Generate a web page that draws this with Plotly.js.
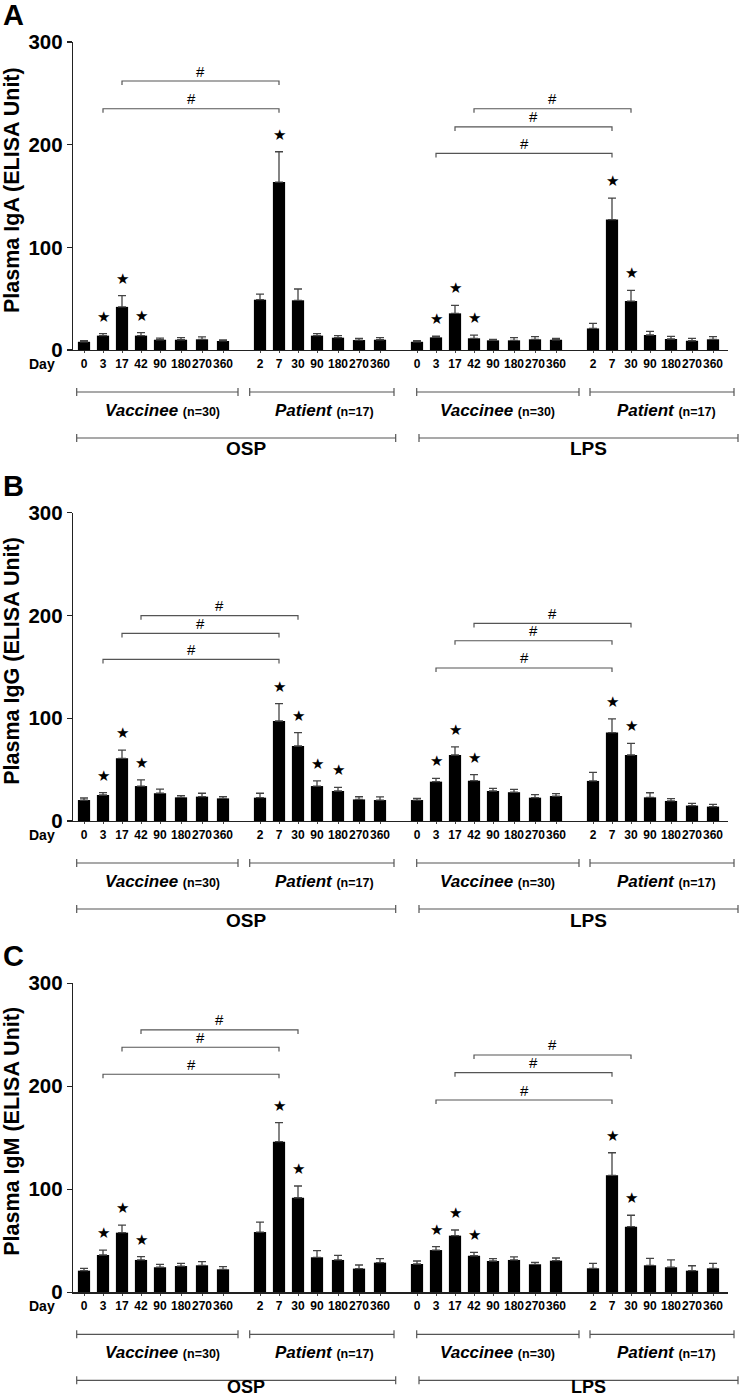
<!DOCTYPE html>
<html><head><meta charset="utf-8">
<script src="https://cdn.plot.ly/plotly-3.0.1.min.js"></script>
<style>html,body{margin:0;padding:0;background:#fff}</style>
</head><body><div id="chart" style="width:740px;height:1398px"></div>
<script>
// ---------- DATA ----------
const vaccineeDays = ['0','3','17','42','90','180','270','360'];
const patientDays  = ['2','7','30','90','180','270','360'];
const groupNames = ['Vaccinee', 'Patient', 'Vaccinee', 'Patient'];
const groupN = ['(n=30)', '(n=17)', '(n=30)', '(n=17)'];
const antigenNames = ['OSP', 'LPS'];
const panelLetters = ['A', 'B', 'C'];
const yTitles = ['Plasma IgA (ELISA Unit)', 'Plasma IgG (ELISA Unit)', 'Plasma IgM (ELISA Unit)'];
const yTicks = [0, 100, 200, 300];

// bar order: OSP vaccinee(8), OSP patient(7), LPS vaccinee(8), LPS patient(7)
const igaMean = [8, 14, 42, 14, 10, 10, 10.4, 8.8,
                 49, 163.6, 48.4, 14, 12, 9.7, 10,
                 8, 12.3, 35.7, 11.4, 9.4, 9.4, 10.4, 10,
                 21, 127, 47.7, 14.6, 10.7, 9, 10.4];
const igaErr  = [1, 2, 11, 3, 1.5, 2, 2.3, 1,
                 5.5, 29.5, 11, 2, 2, 1.7, 2,
                 1, 1.3, 7.8, 3, 1, 2.6, 2.6, 1.4,
                 5, 21, 10.4, 3.6, 2.6, 2.3, 2.6];
const igaStars = [1, 2, 3, 9, 16, 17, 18, 24, 25];
const igaBrackets = [[1, 9, 235], [2, 9, 262], [16, 24, 191.5], [17, 24, 217.4], [18, 25, 235]];

const iggMean = [20.4, 25.3, 61, 34, 27, 23, 23.7, 22,
                 22.7, 97.3, 73, 34, 29.2, 21, 20.4,
                 20.4, 38.3, 64.2, 39.2, 29.2, 28, 22.7, 24.3,
                 39, 86, 64.2, 23, 19.5, 15, 14];
const iggErr  = [2, 2.3, 8, 6, 4, 1.6, 3.3, 1.7,
                 4.3, 17, 13, 5, 3.6, 2.6, 3,
                 1.6, 3.2, 8, 6, 2.6, 2.8, 2.9, 2.3,
                 8.4, 13.3, 11.4, 4.5, 2.2, 2.2, 2.2];
const iggStars = [1, 2, 3, 9, 10, 11, 12, 16, 17, 18, 24, 25];
const iggBrackets = [[1, 9, 157.3], [2, 9, 182.6], [3, 10, 199.8], [16, 24, 148.9], [17, 24, 175.4], [18, 25, 192.4]];

const igmMean = [21, 36.2, 57.9, 31.4, 24.3, 25.5, 26.2, 22.3,
                 58.5, 146.2, 91.8, 34, 31.4, 23, 28.8,
                 27.5, 41, 55, 35.5, 30.4, 31.4, 27.2, 30.7,
                 23.3, 113.6, 63.7, 26.2, 24.3, 21, 23.3];
const igmErr  = [2.3, 4.8, 7.4, 3.2, 2.9, 2.6, 3.5, 2.6,
                 9.7, 18.5, 11.4, 6.4, 4.5, 3.5, 3.8,
                 2.9, 3.3, 5.5, 3.3, 2.2, 2.9, 1.9, 2.6,
                 4.8, 21.9, 11.1, 6.8, 7.1, 4.8, 4.8];
const igmStars = [1, 2, 3, 9, 10, 16, 17, 18, 24, 25];
const igmBrackets = [[1, 9, 211.7], [2, 9, 237.9], [3, 10, 254.7], [16, 24, 186.7], [17, 24, 213.2], [18, 25, 230.4]];

// ---------- LAYOUT HELPERS ----------
const W = 740, H = 1398, ML = 73, MR = 12;
const PW = W - ML - MR;
const XR = [-11, 644];
const panelTopPx = [42, 512.7, 983.3];
const panelBotPx = [350, 821, 1292.3];
const FONT = 'Liberation Sans, Arial, Helvetica, sans-serif';
const py = px => 1 - px / H;
const xpx = px => (px - ML) / PW;

const groups = [vaccineeDays, patientDays, vaccineeDays, patientDays];
const dayLabels = [].concat(...groups);
// x positions: step depends on label width, extra gap between groups
const xPos = [];
{
  let x = 0;
  groups.forEach((g, gi) => {
    g.forEach((lab, k) => {
      if (xPos.length > 0) x += (lab.length >= 3 ? 21 : 19) + (k === 0 ? 18 : 0);
      xPos.push(x);
    });
  });
}

const panels = [
  {mean: igaMean, err: igaErr, stars: igaStars, brackets: igaBrackets},
  {mean: iggMean, err: iggErr, stars: iggStars, brackets: iggBrackets},
  {mean: igmMean, err: igmErr, stars: igmStars, brackets: igmBrackets}
];

const groupSpanPx = [[76.7, 238], [249.7, 394], [416.7, 579], [590, 734]];
const groupTextPx = [162, 324, 497.5, 666];
const antigenSpanPx = [[76.7, 395.7], [419, 738]];
const antigenTextPx = [246, 588];

const traces = [], shapes = [], annotations = [];
const layout = {
  width: W, height: H, margin: {l: ML, r: MR, t: 0, b: 0},
  paper_bgcolor: '#fff', plot_bgcolor: '#fff', showlegend: false,
  font: {family: FONT, color: '#000'}
};

panels.forEach((p, k) => {
  const s = k === 0 ? '' : String(k + 1);
  const xa = 'x' + s, ya = 'y' + s;
  const top = panelTopPx[k], bot = panelBotPx[k];
  layout['xaxis' + s] = {
    domain: [0, 1], anchor: ya, range: XR, showgrid: false, zeroline: false,
    showline: true, linecolor: '#222', linewidth: 1.3,
    tickmode: 'array', tickvals: xPos, ticktext: dayLabels,
    ticks: 'outside', ticklen: 2, tickwidth: 1, tickcolor: '#444',
    tickfont: {family: FONT, size: 12, weight: 'bold', color: '#000'}, tickangle: 0
  };
  layout['yaxis' + s] = {
    domain: [py(bot), py(top)], anchor: xa, range: [0, 300], showgrid: false, zeroline: false,
    showline: true, linecolor: '#222', linewidth: 1.3,
    tickmode: 'array', tickvals: yTicks, ticks: 'outside', ticklen: 5, tickwidth: 1.3, tickcolor: '#222',
    tickfont: {family: FONT, size: 20.5, weight: 'bold', color: '#000'}
  };
  traces.push({
    type: 'bar', x: xPos, y: p.mean, xaxis: xa, yaxis: ya, width: 12.2,
    marker: {color: '#000', line: {width: 0}},
    error_y: {type: 'data', symmetric: false, array: p.err, arrayminus: p.err.map(() => 0),
              color: '#444', thickness: 1.3, width: 4},
    hoverinfo: 'skip'
  });
  p.stars.forEach(i => {
    annotations.push({xref: xa, yref: ya, x: xPos[i], y: p.mean[i] + p.err[i], text: '★',
      showarrow: false, yanchor: 'middle', yshift: 17, font: {family: 'DejaVu Sans', size: 15, color: '#000'}});
  });
  p.brackets.forEach(([a, b, h]) => {
    const xa0 = xPos[a], xb0 = xPos[b];
    shapes.push({type: 'path', xref: xa, yref: ya,
      path: `M ${xa0} ${h - 4} L ${xa0} ${h} L ${xb0} ${h} L ${xb0} ${h - 4}`,
      line: {color: '#555', width: 1.2}});
    annotations.push({xref: xa, yref: ya, x: (xa0 + xb0) / 2, y: h, text: '#', showarrow: false,
      yanchor: 'middle', yshift: 10, font: {family: FONT, size: 15, color: '#000'}});
  });
  annotations.push({xref: 'paper', yref: 'paper', x: xpx(1), y: py(top - 27), text: '<b>' + panelLetters[k] + '</b>',
    showarrow: false, xanchor: 'left', yanchor: 'middle', font: {family: FONT, size: 29, color: '#000'}});
  annotations.push({xref: 'paper', yref: 'paper', x: xpx(12), y: py((top + bot) / 2 - 6), text: '<b>' + yTitles[k] + '</b>',
    textangle: -90, showarrow: false, xanchor: 'center', yanchor: 'middle', font: {family: FONT, size: 21.5, color: '#000'}});
  annotations.push({xref: 'paper', yref: 'paper', x: xpx(27), y: py(bot + 14), text: '<b>Day</b>',
    showarrow: false, xanchor: 'left', yanchor: 'middle', font: {family: FONT, size: 14, color: '#000'}});
  groupSpanPx.forEach(([a, b], g) => {
    const yb = bot + 42;
    shapes.push({type: 'path', xref: 'paper', yref: 'paper',
      path: `M ${xpx(a)} ${py(yb - 4)} L ${xpx(a)} ${py(yb + 4)} M ${xpx(a)} ${py(yb)} L ${xpx(b)} ${py(yb)} M ${xpx(b)} ${py(yb - 4)} L ${xpx(b)} ${py(yb + 4)}`,
      line: {color: '#555', width: 1.2}});
    annotations.push({xref: 'paper', yref: 'paper', x: xpx(groupTextPx[g]), y: py(bot + 60),
      text: '<b><i>' + groupNames[g] + '</i> <span style="font-size:12.5px">' + groupN[g] + '</span></b>',
      showarrow: false, xanchor: 'center', yanchor: 'middle', font: {family: FONT, size: 17, color: '#000'}});
  });
  antigenSpanPx.forEach(([a, b], g) => {
    const yb = bot + 88;
    shapes.push({type: 'path', xref: 'paper', yref: 'paper',
      path: `M ${xpx(a)} ${py(yb - 4)} L ${xpx(a)} ${py(yb + 4)} M ${xpx(a)} ${py(yb)} L ${xpx(b)} ${py(yb)} M ${xpx(b)} ${py(yb - 4)} L ${xpx(b)} ${py(yb + 4)}`,
      line: {color: '#555', width: 1.2}});
    const last = k === panels.length - 1;
    annotations.push({xref: 'paper', yref: 'paper', x: xpx(antigenTextPx[g]), y: py(bot + (last ? 95 : 99)),
      text: '<b>' + antigenNames[g] + '</b>',
      showarrow: false, xanchor: 'center', yanchor: 'middle', font: {family: FONT, size: last ? 18 : 19, color: '#000'}});
  });
});

layout.shapes = shapes;
layout.annotations = annotations;
Plotly.newPlot('chart', traces, layout, {staticPlot: true, displayModeBar: false});
</script>
</body></html>
